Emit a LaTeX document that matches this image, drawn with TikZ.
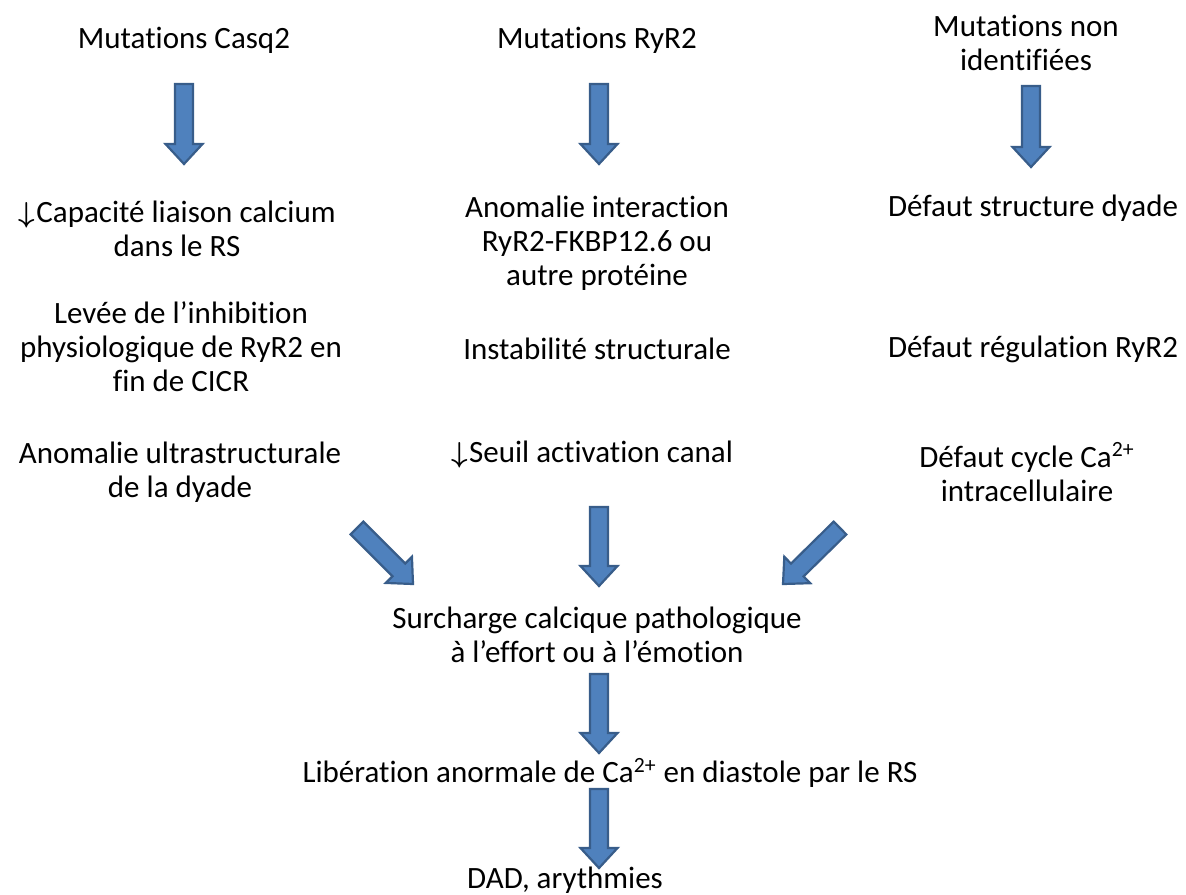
\documentclass[tikz,border=0pt]{standalone}
\usepackage{fontspec}
\setmainfont{Carlito}[Ligatures=NoCommon]
\usetikzlibrary{calc}

\definecolor{arrowfill}{HTML}{4F81BD}
\definecolor{arrowline}{HTML}{385D8A}

\tikzset{
  txt/.style={align=center, inner sep=0pt, font=\fontsize{15.5}{17}\selectfont},
  blockarrow/.style={fill=arrowfill, draw=arrowline, line width=1.1pt, line join=miter}
}

% small down arrow in the text
\newcommand{\dn}{{\boldmath$\downarrow$}\kern0.05em}

% block arrow from #1 to #2
\newcommand{\blockarrow}[2]{%
  \coordinate (hb) at ($(#2)!10pt!(#1)$);
  \draw[blockarrow] ($(#1)!4.5pt!90:(#2)$) -- ($(hb)!4.5pt!90:(#2)$)
    -- ($(hb)!9.25pt!90:(#2)$) -- (#2) -- ($(hb)!9.25pt!-90:(#2)$)
    -- ($(hb)!4.5pt!-90:(#2)$) -- ($(#1)!4.5pt!-90:(#2)$) -- cycle;
}

\begin{document}
\begin{tikzpicture}[x=0.5pt,y=-0.5pt]
  \useasboundingbox (0,0) rectangle (1186,894);
  % causes
  \node[txt] (mcasq) at (184,40) {Mutations Casq2};
  \node[txt] (mryr) at (597,40) {Mutations RyR2};
  \node[txt] (mnon) at (1026,43) {Mutations non\\identifiées};
  % Casq2
  \node[txt] (capa) at (177,229) {\dn Capacité liaison calcium\\dans le RS};
  \node[txt] (levee) at (181,347) {Levée de l’inhibition\\physiologique de RyR2 en\\fin de CICR};
  \node[txt] (ultra) at (180,472) {Anomalie ultrastructurale\\de la dyade};
  % RyR2
  \node[txt] (inter) at (597,243) {Anomalie interaction\\RyR2-FKBP12.6 ou\\autre protéine};
  \node[txt] (insta) at (597,349) {Instabilité structurale};
  \node[txt] (seuil) at (592,455) {\dn Seuil activation canal};
  % non identifiees
  \node[txt] (dyade) at (1033,208) {Défaut structure dyade};
  \node[txt] (regul) at (1033,349) {Défaut régulation RyR2};
  \node[txt] (cycle) at (1027,472) {Défaut cycle Ca\textsuperscript{2+}\\intracellulaire};
  % consequences
  \node[txt] (surch) at (597,635) {Surcharge calcique pathologique\\à l’effort ou à l’émotion};
  \node[txt] (liber) at (610,773) {Libération anormale de Ca\textsuperscript{2+} en diastole par le RS};
  \node[txt] (dad) at (565,880) {DAD, arythmies};
  %
  \coordinate (a1s) at (184,84);  \coordinate (a1e) at (184,164);
  \coordinate (a2s) at (599,84);  \coordinate (a2e) at (599,164);
  \coordinate (a3s) at (1031,86); \coordinate (a3e) at (1031,167);
  \coordinate (a4s) at (357,528); \coordinate (a4e) at (413,584);
  \coordinate (a5s) at (599,507); \coordinate (a5e) at (599,586);
  \coordinate (a6s) at (840,528); \coordinate (a6e) at (783,584);
  \coordinate (a7s) at (599,674); \coordinate (a7e) at (599,753);
  \coordinate (a8s) at (599,789); \coordinate (a8e) at (599,868);
  \foreach \i in {1,...,8} {
    \blockarrow{a\i s}{a\i e}
  }
\end{tikzpicture}
\end{document}
